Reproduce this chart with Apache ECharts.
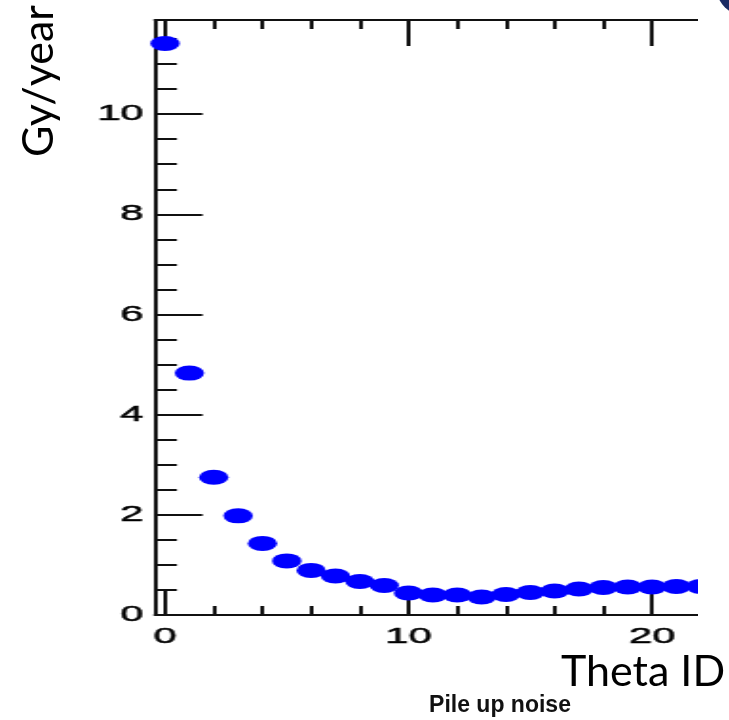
<!DOCTYPE html>
<html>
<head>
<meta charset="utf-8">
<script src="https://cdn.jsdelivr.net/npm/echarts@6/dist/echarts.min.js"></script>
<style>
  html, body { margin: 0; padding: 0; background: #fff; }
  body { width: 729px; height: 720px; position: relative; overflow: hidden; }
  /* the plot is drawn narrow and widened horizontally, as in the printed figure */
  #plotClip { position: absolute; left: 0; top: 0; width: 698px; height: 720px; overflow: hidden; }
  #plot { position: absolute; left: 0; top: 0; width: 384px; height: 720px; transform: scaleX(1.9); transform-origin: 0 0; }
  #labels { position: absolute; left: 0; top: 0; width: 729px; height: 720px; pointer-events: none; }
</style>
</head>
<body>
<div id="plotClip"><div id="plot"></div></div>
<div id="labels"></div>
<script>
// Theta ID of each ring
const thetaIds = [0, 1, 2, 3, 4, 5, 6, 7, 8, 9, 10, 11, 12, 13, 14, 15, 16, 17, 18, 19, 20, 21, 22];
// pile-up noise dose, Gy/year
const doseGyPerYear = [11.41, 4.83, 2.75, 1.98, 1.43, 1.08, 0.89, 0.78, 0.67, 0.59, 0.44, 0.40,
                       0.40, 0.36, 0.41, 0.45, 0.48, 0.52, 0.55, 0.56, 0.56, 0.57, 0.57];
// labelled and unlabelled tick positions
const xMajorTicks = [0, 10, 20];
const xMinorTicks = [2, 4, 6, 8, 12, 14, 16, 18, 22];
const yMajorTicks = [0, 2, 4, 6, 8, 10];
const yMinorTicks = [0.5, 1, 1.5, 2.5, 3, 3.5, 4.5, 5, 5.5, 6.5, 7, 7.5, 8.5, 9, 9.5, 10.5, 11, 11.5];

const X_MIN = -0.41, X_MAX = 23, Y_MIN = 0, Y_MAX = 11.88;
const INK = '#111';
const tickFont = { fontFamily: 'Liberation Sans, Arial, sans-serif', fontSize: 22, color: '#000',
                   textBorderColor: '#000', textBorderWidth: 0.5 };

function xAxisDef(position, ticks, len, showLine, showLabel) {
  return {
    type: 'value', position: position, min: X_MIN, max: X_MAX,
    axisLine: { show: showLine, onZero: false, lineStyle: { color: INK, width: 2 } },
    axisTick: { show: true, inside: true, length: len, customValues: ticks, lineStyle: { color: INK, width: 2 } },
    axisLabel: Object.assign({ show: showLabel, customValues: ticks, margin: 11 }, tickFont),
    splitLine: { show: false }
  };
}
function yAxisDef(ticks, len, showLine, showLabel) {
  return {
    type: 'value', position: 'left', min: Y_MIN, max: Y_MAX,
    axisLine: { show: showLine, onZero: false, lineStyle: { color: INK, width: 2 } },
    axisTick: { show: true, inside: true, length: len, customValues: ticks, lineStyle: { color: INK, width: 2 } },
    axisLabel: Object.assign({ show: showLabel, customValues: ticks, margin: 6 }, tickFont),
    splitLine: { show: false }
  };
}

const plot = echarts.init(document.getElementById('plot'), null, { renderer: 'canvas' });
plot.setOption({
  animation: false,
  backgroundColor: '#fff',
  grid: { left: 81.6, top: 20, width: 300, height: 595 },
  xAxis: [
    xAxisDef('bottom', xMajorTicks, 26, true, true),
    xAxisDef('bottom', xMinorTicks, 9, false, false),
    xAxisDef('top', xMajorTicks, 26, true, false),
    xAxisDef('top', xMinorTicks, 9, false, false)
  ],
  yAxis: [
    yAxisDef(yMajorTicks, 25, true, true),
    yAxisDef(yMinorTicks, 11.5, false, false)
  ],
  series: [{
    type: 'scatter',
    xAxisIndex: 0, yAxisIndex: 0,
    symbol: 'circle', symbolSize: [15.5, 15],
    itemStyle: { color: '#0000ff', opacity: 1 },
    data: thetaIds.map((t, i) => [t, doseGyPerYear[i]])
  }]
});

// titles and the slide decoration around the plot
const labels = echarts.init(document.getElementById('labels'), null, { renderer: 'canvas' });
labels.setOption({
  animation: false,
  graphic: [
    { type: 'text', x: 39, y: 81, rotation: Math.PI / 2,
      style: { text: 'Gy/year', fontFamily: 'Lato, sans-serif', fontSize: 43, fill: '#000',
               align: 'center', verticalAlign: 'middle' } },
    { type: 'text', x: 561, y: 672,
      style: { text: 'Theta ID', fontFamily: 'Lato, sans-serif', fontSize: 43, fill: '#000',
               align: 'left', verticalAlign: 'middle' } },
    { type: 'text', x: 500, y: 706,
      style: { text: 'Pile up noise', fontFamily: 'Liberation Sans, Arial, sans-serif', fontWeight: 'bold',
               fontSize: 23, fill: '#111', align: 'center', verticalAlign: 'middle' } },
    { type: 'circle', shape: { cx: 746, cy: -14, r: 30 }, style: { fill: '#1b2a63' } }
  ]
});
</script>
</body>
</html>
